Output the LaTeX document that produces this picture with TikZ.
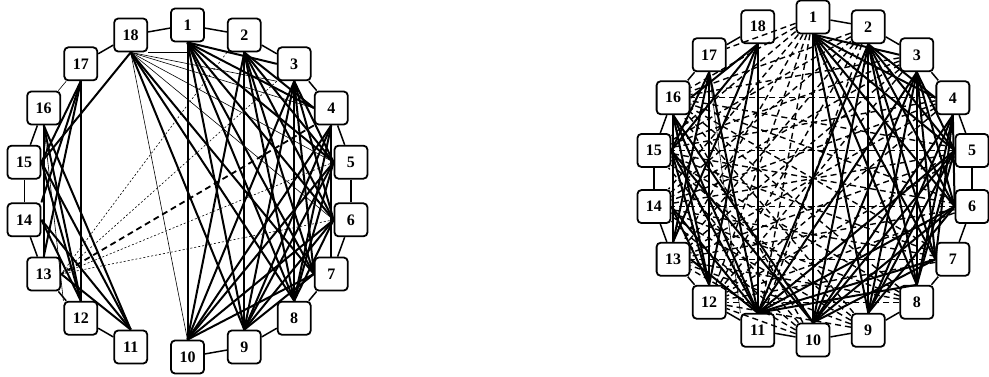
\documentclass[tikz,border=0pt]{standalone}
\usepackage{fontspec}
\setmainfont{Liberation Serif}
\begin{document}
\begin{tikzpicture}[x=1pt,y=-1pt,
  vtx/.style={draw, line width=1.8pt, rounded corners=4pt, minimum size=33pt, inner sep=0pt, fill=white, font=\fontsize{16}{16}\selectfont\bfseries},
  ring/.style={line width=1.5pt},
  ringthin/.style={line width=0.6pt},
  thk/.style={line width=2pt},
  thn/.style={line width=0.6pt},
  dthin/.style={line width=0.6pt, dash pattern=on 2pt off 2pt},
  dthk/.style={line width=1.8pt, dash pattern=on 6pt off 4pt},
  dmid/.style={line width=1.4pt, dash pattern=on 6pt off 4pt},
]
\useasboundingbox (0,0) rectangle (989,376);
\foreach \k in {1,...,18}{
  \pgfmathsetmacro\ang{90-20*(\k-1)}
  \node[vtx] (a\k) at ({187.5+166*cos(\ang)},{191-166*sin(\ang)}) {\k};
  \node[vtx] (b\k) at ({813+161.5*cos(\ang)},{178.5-161.5*sin(\ang)}) {\k};
}
% ---------------- left graph ----------------
\foreach \i/\j in {18/1,1/2,2/3,3/4,4/5,5/6,6/7,7/8,8/9,9/10,11/12,12/13,13/14,15/16,17/18}
  \draw[ring] (a\i) -- (a\j);
\foreach \i/\j in {14/15,16/17}
  \draw[ringthin] (a\i) -- (a\j);
\foreach \s/\t in {1.south/3.west,1.south/4.west,1.south/5.west,1.south/6.west,1.south/7.west,1.south/8.north,1.south/9.north,1.south/10.north,
  18.south/7.west,18.south/8.north,18.south/9.north,18.south/15.east,
  2.south/10.north,2.south/9.north,2.south/8.north,2.south/7.west,2.south/6.west,2.south/5.west,2.south/4.west,
  3.south/10.north,3.south/9.north,3.south/8.north,3.south/7.west,3.south/6.west,3.south/5.west,
  4.south/10.north,4.south/9.north,4.south/8.north,4.south/7.north,
  5.west/10.north,5.west/9.north,5.west/8.north,
  6.west/10.north,6.west/9.north,6.west/8.north,
  7.west/10.north,7.west/9.north,
  16.south/13.north,17.south/12.north,17.south/15.east,17.south/14.north east,17.south/13.north,
  16.south/12.north,16.south/11.north,15.east/11.north,15.east/12.north,14.east/11.north,14.east/12.north,13.east/11.north}
  \draw[thk] (a\s) -- (a\t);
\foreach \s/\t in {18.south/3.south west,18.south/4.west,18.south/5.west,18.south/6.west,18.south/10.north,16.south/12.north west}
  \draw[thn] (a\s) -- (a\t);
\coordinate (h1) at (a1.south |- a18.south east);
\draw[thn] (a18.south east) -- (h1);
\foreach \s in {2.south west,3.south west,5.west,6.west}
  \draw[dthin] (a\s) -- (a13.east);
\draw[dthk] (a4.south west) -- (a13.east);
% ---------------- right graph ----------------
\foreach \i/\j in {1/2,2/3,3/4,4/5,5/6,6/7,7/8,8/9,9/10,10/11,11/12,12/13,13/14,14/15,15/16,16/17,17/18}
  \draw[ring] (b\i) -- (b\j);
\foreach \s/\t in {1.south/3.west,1.south/4.west,1.south/5.west,1.south/6.west,1.south/7.west,1.south/8.north,1.south/9.north,1.south/10.north,
  2.south/4.west,2.south/5.west,2.south/6.west,2.south/7.west,2.south/8.north,2.south/9.north,2.south/10.north,2.south/11.north,
  3.south/5.west,3.south/6.west,3.south/7.west,3.south/8.north,3.south/9.north,3.south/10.north,3.south/11.north,
  4.south/6.west,4.south/7.west,4.south/8.north,4.south/9.north,4.south/10.north,
  5.west/8.north,5.west/9.north,5.west/10.north,5.west/11.north,
  6.west/9.north,6.west/10.north,6.west/11.north,
  7.west/10.north,7.west/11.north,8.north/11.north,
  18.south/16.east,18.south/15.east,18.south/13.north,18.south/12.north,18.south/11.north,
  17.south/12.north,17.south/15.east,17.south/13.north,17.south/11.north,
  16.south/13.north,16.south/12.north,16.south/11.north,16.south/10.north,
  15.east/12.north,15.east/11.north,15.east/10.north,
  14.east/12.north,14.east/11.north,13.east/11.north}
  \draw[thk] (b\s) -- (b\t);
\draw[thn] (b17.south) -- (b11.north west);
\foreach \i in {1,2}
  \foreach \j in {11,12,13,14,15,16}
    \draw[dmid] (b\i) -- (b\j);
\draw[dmid] (b1) -- (b17);
\foreach \i in {3,4,5,6,7,8,9,10}
  \foreach \j in {12,13,14,15,16}
    \draw[dmid] (b\i) -- (b\j);
\end{tikzpicture}
\end{document}
